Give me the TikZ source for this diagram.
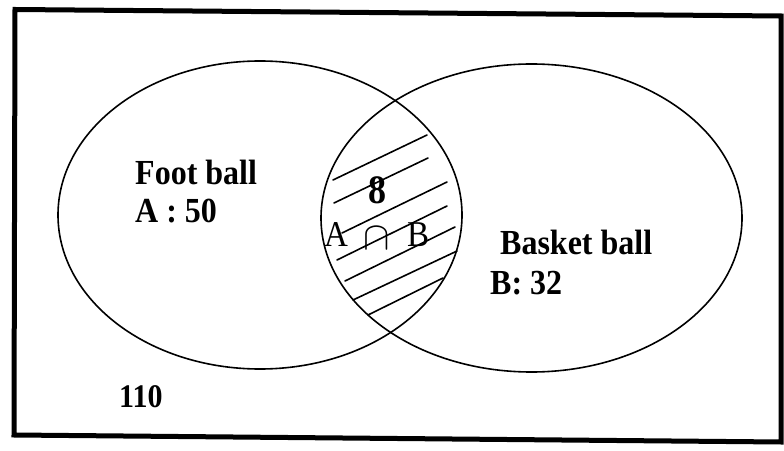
\documentclass[tikz,border=0pt]{standalone}
\usepackage{fontspec}
\setmainfont{Liberation Serif}
\newcommand{\tallbox}[1]{\scalebox{1}[1.1]{#1}}
\begin{document}
\begin{tikzpicture}[x=1bp,y=-1bp,
  frame/.style={line width=5bp, line join=miter},
  venn/.style={line width=1.6bp},
  hatch/.style={line width=1.6bp, line cap=round},
  lbl/.style={anchor=base west, inner sep=0pt, font=\fontsize{32bp}{38bp}\selectfont\bfseries},
  lblr/.style={anchor=base west, inner sep=0pt, font=\fontsize{33bp}{38bp}\selectfont}]
\useasboundingbox (0,0) rectangle (784,451);
% frame
\draw[frame] (15,9.5) -- (781,16) -- (781,442) -- (14,435) -- cycle;
% ellipses
\draw[venn] (260,215) ellipse [x radius=202bp, y radius=154bp];
\draw[venn] (531.5,218) ellipse [x radius=210.5bp, y radius=154bp];
% hatching
\draw[hatch] (333,180) -- (427,135);
\draw[hatch] (334,203) -- (428,158);
\draw[hatch] (342,233) -- (447,182);
\draw[hatch] (337,260) -- (447,206);
\draw[hatch] (345,281) -- (455,227);
\draw[hatch] (353,300) -- (457,251);
\draw[hatch] (368,315) -- (443,278);
% labels
\node[lbl] (fb) at (135,185) {\tallbox{Foot ball}};
\node[lbl] (a50) at (135,223) {\tallbox{A : 50}};
\node[lbl] (bb) at (500,255) {\tallbox{Basket ball}};
\node[lbl] (b32) at (490,295) {\tallbox{B: 32}};
\node[lbl, font=\fontsize{30bp}{36bp}\selectfont\bfseries] (n110) at (119,407) {\tallbox{110}};
\node[inner sep=0pt, font=\fontsize{36bp}{42bp}\selectfont\bfseries] (n8) at (377,190) {\scalebox{1}[1.12]{8}};
\node[lblr] (ia) at (324,247) {\tallbox{A}};
\node[inner sep=0pt] (cap) at (377,238) {\scalebox{1.6}{\fontsize{32bp}{38bp}\selectfont$\cap$}};
\node[lblr] (ib) at (407,247) {\tallbox{B}};
\end{tikzpicture}
\end{document}
